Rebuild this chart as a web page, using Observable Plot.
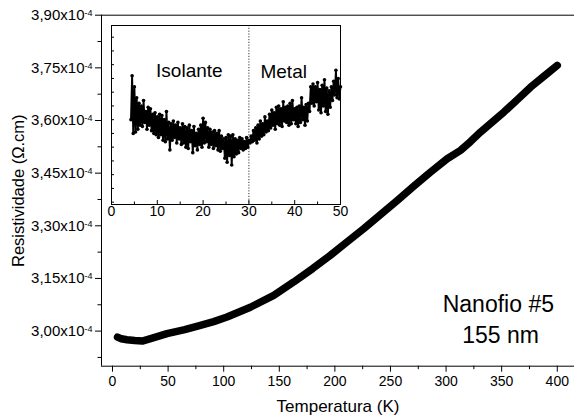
<!DOCTYPE html>
<html><head><meta charset="utf-8">
<script src="https://cdn.jsdelivr.net/npm/d3@7"></script>
<script src="https://cdn.jsdelivr.net/npm/@observablehq/plot@0.6"></script>
<style>
body{margin:0;background:#fff;}
#wrap{position:relative;width:574px;height:418px;font-family:"Liberation Sans",Arial,sans-serif;background:#fff;}
#wrap svg{position:absolute;overflow:visible;}
</style></head><body><div id="wrap"></div>
<script>
// Main curve: temperature (K) and resistivity (x10^-4 ohm.cm)
const mainT = [4.5, 8, 13, 20, 26.7, 35, 49, 65, 79, 91, 103, 124, 145, 163, 180, 196, 211, 226, 241, 256, 271, 286, 301, 313, 322, 331, 342, 352, 364, 376, 388, 400];
const mainR = [2.983, 2.978, 2.9755, 2.973, 2.9715, 2.979, 2.9926, 3.004, 3.016, 3.027, 3.040, 3.068, 3.102, 3.140, 3.178, 3.216, 3.254, 3.292, 3.332, 3.372, 3.413, 3.453, 3.491, 3.515, 3.540, 3.567, 3.597, 3.624, 3.659, 3.695, 3.726, 3.757];

// Inset: low-temperature detail (arbitrary vertical units)
const insetT = [
 4.25,4.5,4.75,5.0, 5.25,5.5,5.75,6.0, 6.25,6.5,6.75,7.0, 7.25,7.5,7.75,8.0, 8.25,8.5,8.75,9.0,
 9.25,9.5,9.75,10.0, 10.25,10.5,10.75,11.0, 11.25,11.5,11.75,12.0, 12.25,12.5,12.75,13.0, 13.25,13.5,13.75,14.0,
 14.25,14.5,14.75,15.0, 15.25,15.5,15.75,16.0, 16.25,16.5,16.75,17.0, 17.25,17.5,17.75,18.0, 18.25,18.5,18.75,19.0,
 19.25,19.5,19.75,20.0, 20.25,20.5,20.75,21.0, 21.25,21.5,21.75,22.0, 22.25,22.5,22.75,23.0, 23.25,23.5,23.75,24.0,
 24.25,24.5,24.75,25.0, 25.25,25.5,25.75,26.0, 26.25,26.5,26.75,27.0, 27.25,27.5,27.75,28.0, 28.25,28.5,28.75,29.0,
 29.25,29.5,29.75,30.0, 30.25,30.5,30.75,31.0, 31.25,31.5,31.75,32.0, 32.25,32.5,32.75,33.0, 33.25,33.5,33.75,34.0,
 34.25,34.5,34.75,35.0, 35.25,35.5,35.75,36.0, 36.25,36.5,36.75,37.0, 37.25,37.5,37.75,38.0, 38.25,38.5,38.75,39.0,
 39.25,39.5,39.75,40.0, 40.25,40.5,40.75,41.0, 41.25,41.5,41.75,42.0, 42.25,42.5,42.75,43.0, 43.25,43.5,43.75,44.0,
 44.25,44.5,44.75,45.0, 45.25,45.5,45.75,46.0, 46.25,46.5,46.75,47.0, 47.25,47.5,47.75,48.0, 48.25,48.5,48.75,49.0,
 49.25,49.5,49.75,50.0];
const insetR = [
 6.0,9.2,5.0,8.4, 5.1,7.6,5.3,7.2, 5.6,7.0,5.5,7.4, 5.8,6.6,5.3,6.9, 5.6,6.8,5.2,6.4,
 5.0,6.5,4.9,6.2, 4.7,6.4,4.9,6.3, 4.5,6.0,4.4,6.6, 4.6,5.8,3.8,5.7, 4.5,5.9,4.7,5.6,
 4.3,5.8,4.6,5.4, 4.2,5.7,4.3,5.5, 4.0,5.4,3.9,5.6, 4.4,5.2,3.6,5.5, 4.1,5.0,3.8,5.3,
 4.2,5.6,4.0,6.1, 4.3,5.8,4.4,5.4, 4.0,5.3,4.2,5.1, 3.9,5.2,4.1,5.0, 3.8,5.2,3.7,4.8,
 3.9,4.6,3.2,4.7, 2.9,4.9,3.4,4.8, 2.7,4.9,3.3,4.6, 3.5,4.5,3.6,4.7, 3.9,4.6,3.8,4.4,
 3.9,4.7,4.0,4.5, 4.3,4.8,4.4,5.2, 4.5,5.4,4.3,5.6, 4.6,5.9,4.8,5.7, 4.9,6.2,5.1,5.9,
 5.2,6.4,5.4,6.7, 5.6,6.5,5.3,6.9, 5.7,7.0,5.6,6.8, 5.5,7.3,5.9,6.9, 5.8,7.0,5.6,7.2,
 5.7,7.4,6.0,6.8, 5.7,6.9,5.5,7.0, 5.8,7.6,6.0,6.9, 5.6,7.1,5.9,7.2, 6.6,8.4,7.2,8.6,
 7.0,8.4,7.3,8.7, 6.7,8.2,6.5,8.5, 7.0,8.9,6.6,8.3, 6.4,8.1,6.9,8.4, 7.4,8.8,7.8,9.6,
 7.6,9.0,7.5,8.4];

// Axis ticks
const xTicks = [0, 50, 100, 150, 200, 250, 300, 350, 400];
const xMinor = [25, 75, 125, 175, 225, 275, 325, 375];
const yTicks = [3.00, 3.15, 3.30, 3.45, 3.60, 3.75, 3.90];
const yMinor = [2.925, 3.075, 3.225, 3.375, 3.525, 3.675, 3.825];
const insetXTicks = [0, 10, 20, 30, 40, 50];
const insetXMinor = [5, 15, 25, 35, 45];
const insetYTicks = [0, 1, 2, 3, 4, 5, 6, 7, 8, 9, 10, 11, 12];
const boundaryT = [30];

const mainData = mainT.map((t, i) => ({t, r: mainR[i]}));
const insetData = insetT.map((t, i) => ({t, r: insetR[i]}));

const FONT = '"Liberation Sans", Arial, sans-serif';
const X0 = -9.9, X1 = 415.5, Y0 = 2.90, Y1 = 3.90;

const main = Plot.plot({
  width: 574, height: 418,
  marginLeft: 101, marginRight: 0, marginTop: 14.7, marginBottom: 52.3,
  x: {domain: [X0, X1]},
  y: {domain: [Y0, Y1]},
  style: {fontFamily: FONT, color: "black", background: "transparent", overflow: "visible"},
  marks: [
    Plot.ruleY([Y1], {stroke: "black", strokeWidth: 1}),
    Plot.ruleY([Y0], {stroke: "black", strokeWidth: 1}),
    Plot.ruleX([X0], {stroke: "black", strokeWidth: 1}),
    Plot.axisX({ticks: xTicks, tickSize: 6, tickPadding: 4, fontSize: 14, tickFormat: d => String(d),
      label: "Temperatura (K)", labelAnchor: "center", labelOffset: 46, labelArrow: "none"}),
    Plot.axisX({ticks: xMinor, tickSize: 3.5, tickFormat: () => "", label: null}),
    Plot.axisY({ticks: yTicks, tickSize: 6, tickPadding: 3, fontSize: 15,
      tickFormat: d => d.toFixed(2).replace(".", ",") + "x10|-4",
      label: "Resistividade (\u03A9.cm)", labelAnchor: "center", labelOffset: 89, labelArrow: "none"}),
    Plot.axisY({ticks: yMinor, tickSize: 3.5, tickFormat: () => "", label: null}),
    Plot.line(mainData, {x: "t", y: "r", stroke: "black", strokeWidth: 7.5, strokeLinecap: "round", strokeLinejoin: "round"}),
    Plot.text(["Nanofio #5"], {x: 347, y: 3.053, text: d => d, fontSize: 23, textAnchor: "middle", lineAnchor: "bottom"}),
    Plot.text(["155 nm"], {x: 349, y: 2.965, text: d => d, fontSize: 23, textAnchor: "middle", lineAnchor: "bottom"})
  ]
});
main.style.left = "0px"; main.style.top = "0px";

// superscript exponent on y tick labels
main.querySelectorAll('g[aria-label="y-axis tick label"] text').forEach(el => {
  const s = el.textContent;
  if (!s.includes("|")) return;
  const [base, exp] = s.split("|");
  el.textContent = base;
  const ts = document.createElementNS("http://www.w3.org/2000/svg", "tspan");
  ts.setAttribute("font-size", "9");
  ts.setAttribute("dy", "-0.45em");
  ts.textContent = exp;
  el.appendChild(ts);
});
main.querySelectorAll('g[aria-label="x-axis label"] text').forEach(el => {
  el.setAttribute("font-size", "17");
  el.textContent = el.textContent.replace(/[\u2190-\u2193]/g, "").trim();
});
main.querySelectorAll('g[aria-label="y-axis label"] text').forEach(el => {
  el.setAttribute("font-size", "16.5");
  el.textContent = el.textContent.replace(/[\u2190-\u2193]/g, "").trim();
});

const IW = 229, IH = 179;
const inset = Plot.plot({
  width: IW + 20, height: IH + 30,
  marginLeft: 10, marginRight: 10, marginTop: 10, marginBottom: 20,
  x: {domain: [0, 50]},
  y: {domain: [-0.17, 12.85], axis: null},
  style: {fontFamily: FONT, color: "black", background: "transparent", overflow: "visible"},
  marks: [
    Plot.ruleX(boundaryT, {stroke: "#333", strokeWidth: 1, strokeDasharray: "1.2,1.6"}),
    Plot.tickX(insetXTicks, {x: d => d, insetTop: IH - 4, stroke: "black"}),
    Plot.tickX(insetXMinor, {x: d => d, insetTop: IH - 2.5, stroke: "black"}),
    Plot.tickY(insetYTicks, {y: d => d, insetRight: IW - 3, stroke: "black"}),
    Plot.axisX({ticks: insetXTicks, tickSize: 0, tickPadding: 2, fontSize: 14, tickFormat: d => String(d), label: null}),
    Plot.line(insetData, {x: "t", y: "r", stroke: "black", strokeWidth: 1.9}),
    Plot.dot(insetData, {x: "t", y: "r", r: 1.8, fill: "black"}),
    Plot.text(["Isolante"], {x: 17, y: 9.07, text: d => d, fontSize: 19, textAnchor: "middle", lineAnchor: "bottom"}),
    Plot.text(["Metal"], {x: 37.6, y: 9.0, text: d => d, fontSize: 19, textAnchor: "middle", lineAnchor: "bottom"}),
    Plot.frame({stroke: "black", strokeWidth: 1})
  ]
});
inset.style.left = "101px"; inset.style.top = "15px";

const wrap = document.getElementById("wrap");
wrap.appendChild(main);
wrap.appendChild(inset);
</script></body></html>
